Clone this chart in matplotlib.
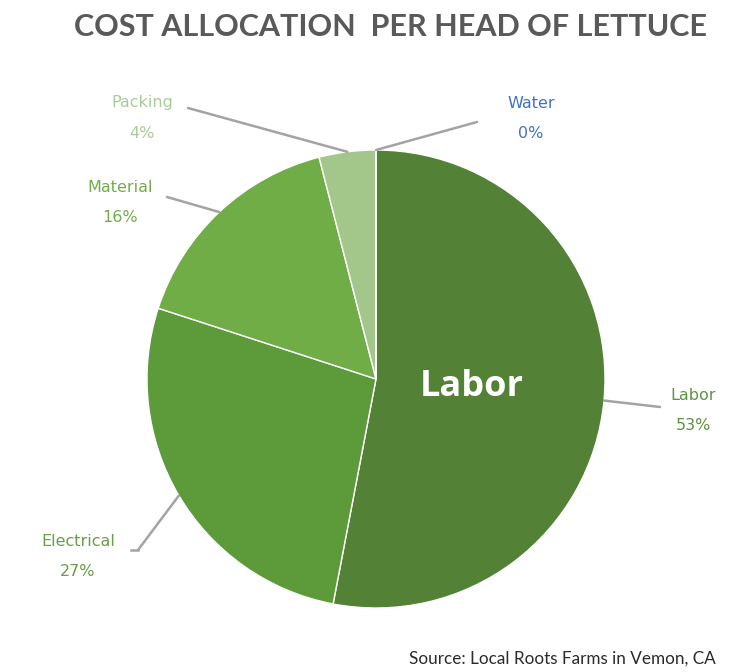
import numpy as np
import matplotlib.pyplot as plt

# cost shares per head of lettuce (percent), clockwise from 12 o'clock
labels = ['Labor', 'Electrical', 'Material', 'Packing', 'Water']
shares = [53, 27, 16, 4, 0]
slice_colors = ['#538135', '#5c9a3a', '#70ad47', '#a3c78b', '#4472c4']
text_colors = ['#5e9343', '#6a9e4a', '#72ac4c', '#a9cc98', '#4472c4']

# label text positions (pixels from top-left) and where the leader leaves the text
label_xy = {'Labor': (693, 395), 'Electrical': (78, 542), 'Material': (120, 188),
            'Packing': (142, 103), 'Water': (531, 103)}
elbow_xy = {'Labor': (660, 407), 'Electrical': (138, 550), 'Material': (167, 197),
            'Packing': (188, 108), 'Water': (477, 122)}

W, H = 741, 672
fig = plt.figure(figsize=(W / 100, H / 100), dpi=100)
ax = fig.add_axes([0, 0, 1, 1])

cx, cy, r = 376, H - 379, 229
wedges, _ = ax.pie(shares, colors=slice_colors, startangle=90, counterclock=False,
                   center=(cx, cy), radius=r, frame=True,
                   wedgeprops=dict(edgecolor='white', linewidth=1.0))
ax.set_xlim(0, W)
ax.set_ylim(0, H)
ax.set_aspect('equal')
ax.axis('off')

font = 'DejaVu Sans'
line_col = '#a3a3a3'
for w, name, val, tc in zip(wedges, labels, shares, text_colors):
    # leader goes from the label to the outer edge at the wedge's middle angle
    mid = np.deg2rad((w.theta1 + w.theta2) / 2)
    px, py = cx + r * np.cos(mid), cy + r * np.sin(mid)
    ex, ey = elbow_xy[name]
    ax.plot([ex, px], [H - ey, py], color=line_col, lw=1.8, solid_capstyle='round')
    tx, ty = label_xy[name]
    ax.text(tx, H - ty, name, color=tc, fontsize=11.5, ha='center', va='center',
            family=font)
    ax.text(tx, H - ty - 30, f'{val}%', color=tc, fontsize=11.5, ha='center',
            va='center', family=font)

# short horizontal stub after "Electrical"
ax.plot([131, 138], [H - 550, H - 550], color=line_col, lw=1.8)

ax.text(472, H - 387, 'Labor', color='white', fontsize=26, fontweight='bold',
        ha='center', va='center', family='Open Sans')

fig.text(390 / W, 1 - 27 / H, 'COST ALLOCATION  PER HEAD OF LETTUCE', color='#595959',
         fontsize=22, fontweight='bold', ha='center', va='center', family='Lato')
fig.text(716 / W, 1 - 659 / H, 'Source: Local Roots Farms in Vemon, CA', color='#2a2a2a',
         fontsize=12.3, ha='right', va='center', family='Lato')

fig.savefig('out.png', dpi=100, facecolor='white')
